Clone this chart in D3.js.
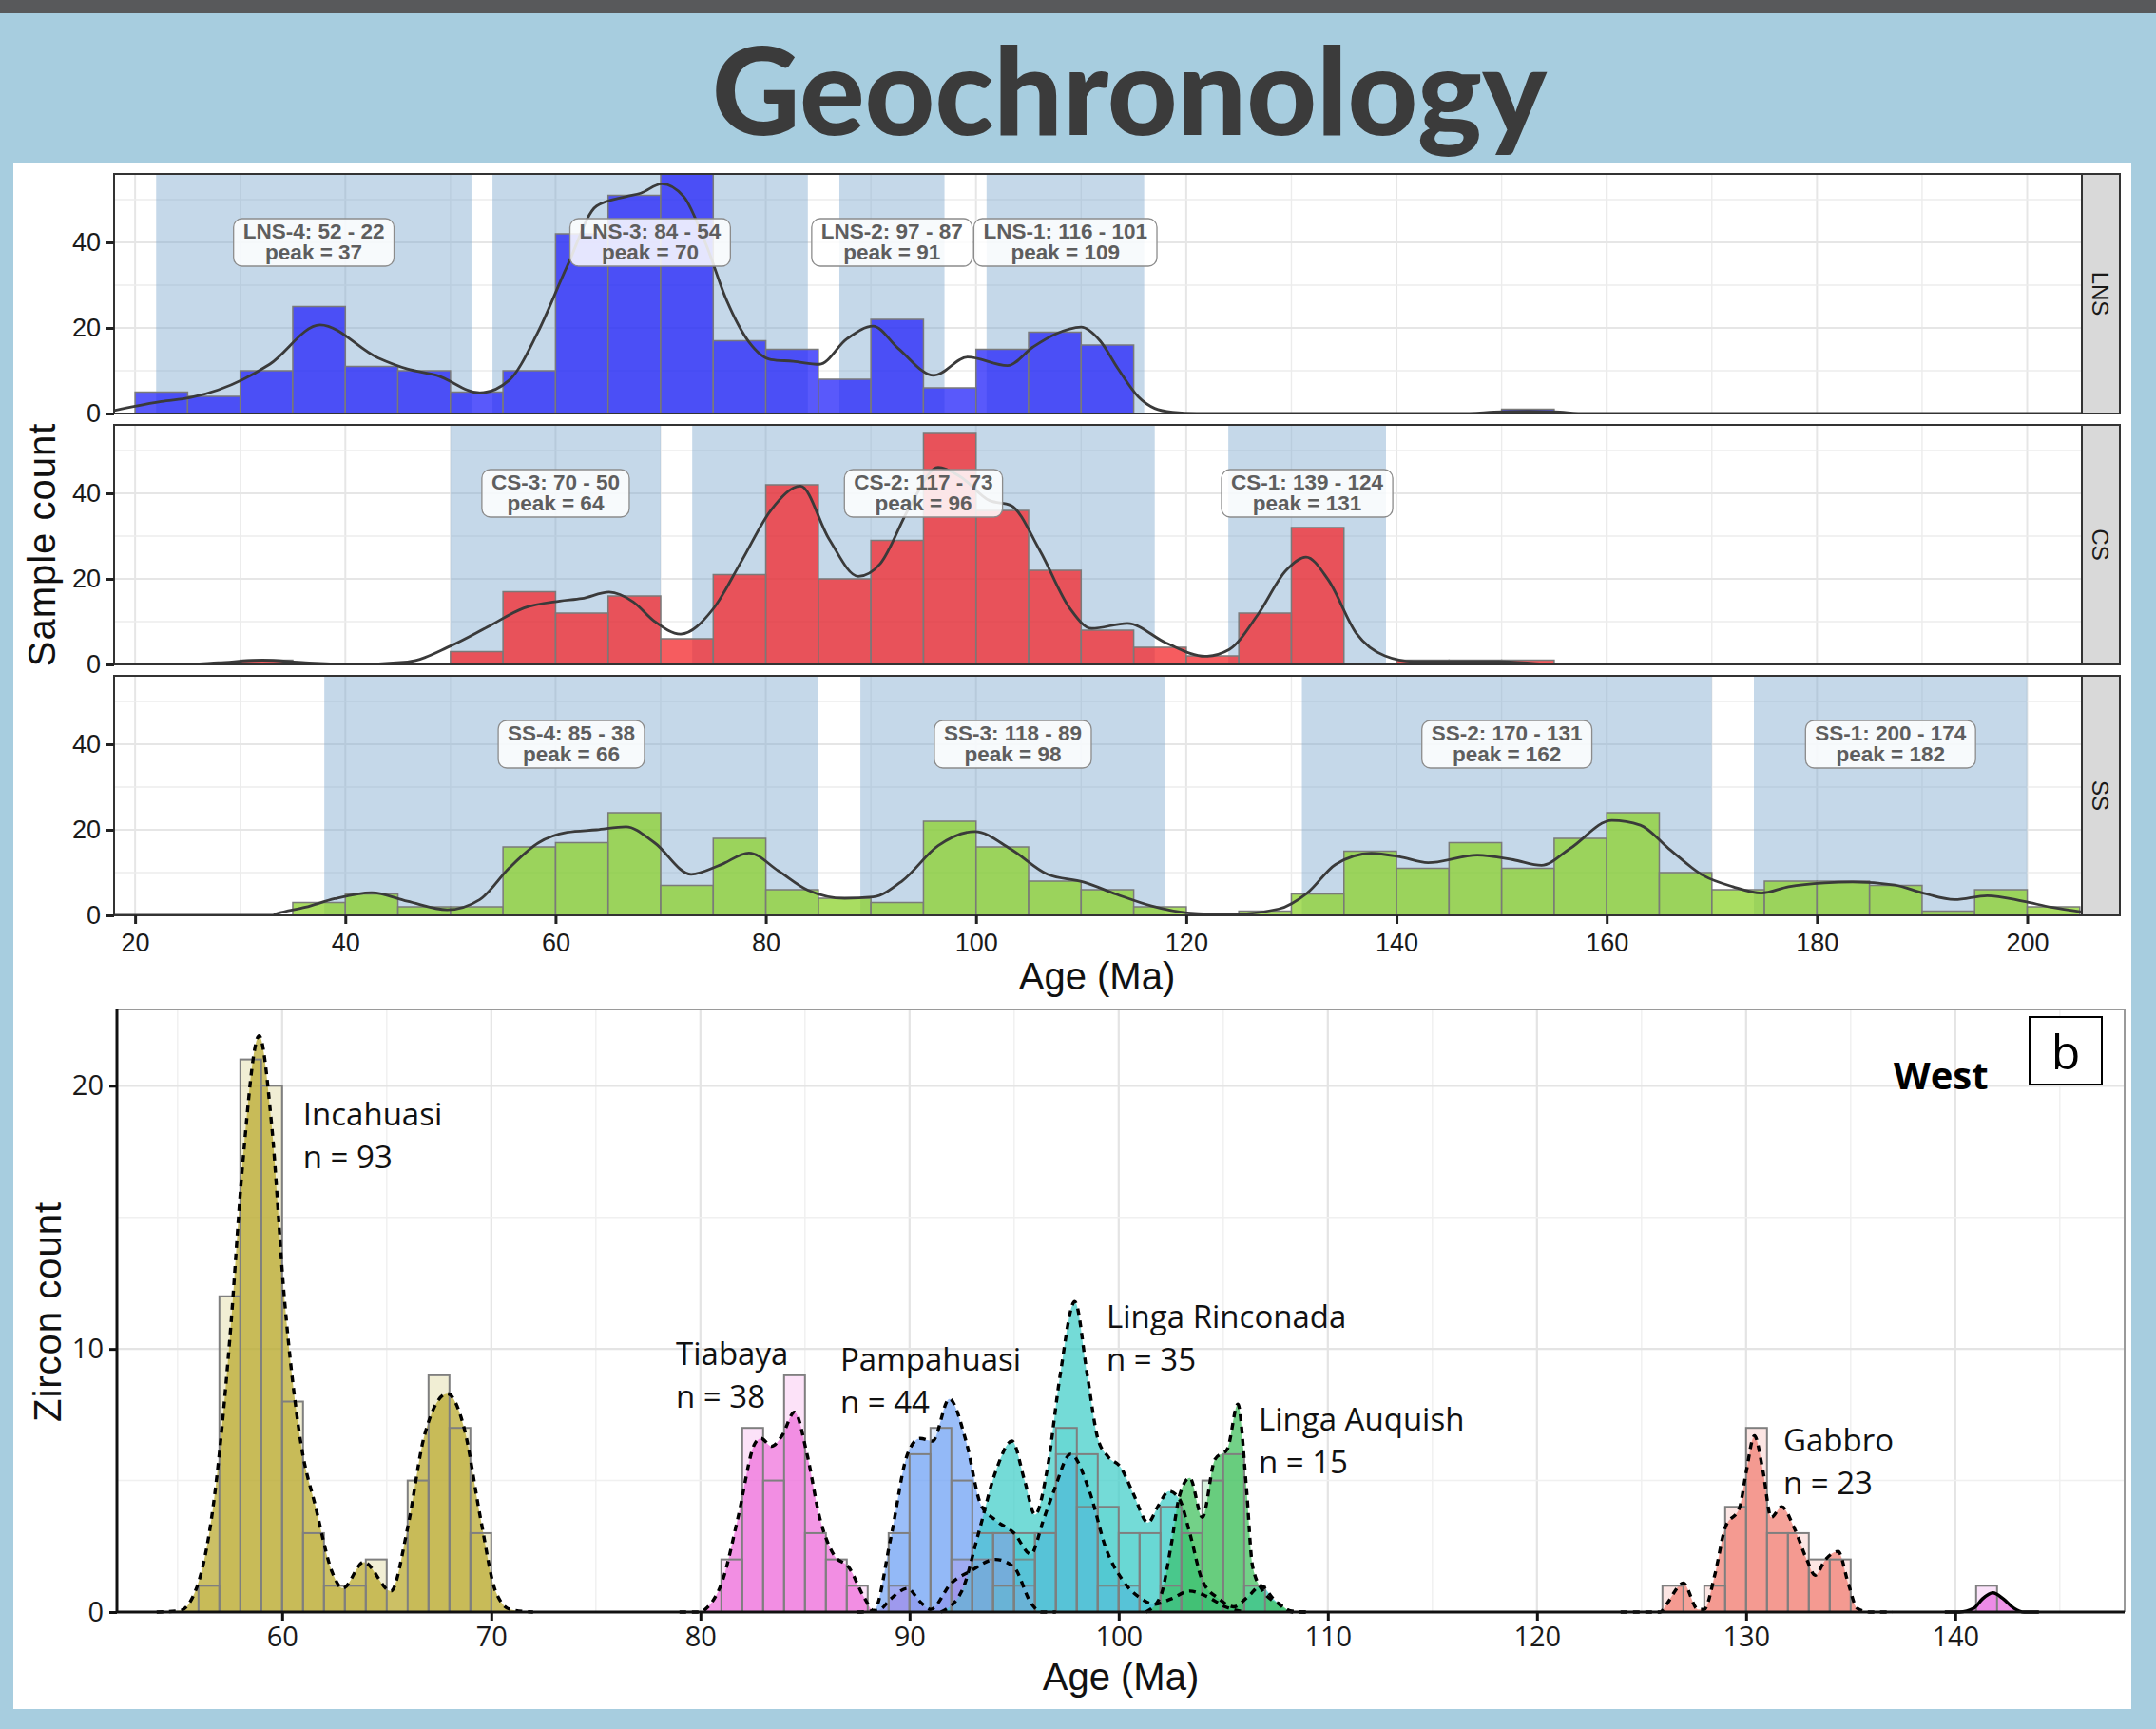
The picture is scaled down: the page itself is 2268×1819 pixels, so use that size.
<!DOCTYPE html>
<html>
<head>
<meta charset="utf-8">
<script src="https://cdn.jsdelivr.net/npm/d3@7"></script>
<style>
  html, body { margin: 0; padding: 0; background: #a7cddf; }
  svg { display: block; }
</style>
</head>
<body>
<svg id="fig" width="2268" height="1819"></svg>
<script>
// ===== Upper figure: sample counts per 5 Myr bin, by unit =====
const binStart = 20;
const binWidth = 5;
const facetNames = ["LNS", "CS", "SS"];
const lnsCounts = [5, 4, 10, 25, 11, 10, 5, 10, 42, 51, 57, 17, 15, 8, 22, 6, 15, 19, 16, 0, 0, 0, 0, 0, 0, 0, 1];
const csCounts  = [0, 0, 1, 0, 0, 0, 3, 17, 12, 16, 6, 21, 42, 20, 29, 54, 36, 22, 8, 4, 2, 12, 32, 0, 1, 1, 1];
const ssCounts  = [0, 0, 0, 3, 5, 2, 2, 16, 17, 24, 7, 18, 6, 4, 3, 22, 16, 8, 6, 2, 0, 1, 5, 15, 11, 17, 11, 18, 24, 10, 6, 8, 8, 7, 1, 6, 2];

// smoothed density traces, [age Ma, count]
const lnsDensity = [[18, 0.7], [20, 1.7], [22.5, 2.8], [25.2, 3.7], [27.9, 5.5], [32.8, 11.5], [37.6, 20.7], [43.1, 13], [45.9, 10.4], [48.7, 8.9], [52.8, 4.8], [55.6, 7.8], [58.3, 18.9], [61.1, 34.4], [63.9, 48.5], [66.7, 50.7], [68.1, 51.5], [70.1, 53.7], [72.2, 50.7], [74.3, 39.6], [76.3, 26.3], [78.4, 16.7], [80.5, 12.6], [82.6, 12.2], [85.1, 11.5], [87.7, 17.4], [90.2, 20.4], [92.6, 15.2], [96.0, 8.9], [99.2, 13.2], [103, 11.2], [105.4, 15.5], [107.5, 18.5], [110, 20.2], [111.8, 17], [113.5, 10.5], [115.4, 4], [117, 1.2], [118.7, 0.3], [121, 0], [146, 0], [150, 0.4], [152.5, 0.5], [155, 0.4], [158, 0], [205.2, 0]];
const csDensity = [[18, 0], [24.4, 0], [27.9, 0.4], [32.1, 1.0], [36.2, 0.4], [40.4, 0], [45.9, 0.6], [50, 4.3], [53.5, 8.7], [57, 13.2], [60.4, 14.8], [62.5, 15.4], [65.1, 16.9], [67.4, 14.6], [69.4, 10.1], [71.9, 7.1], [75, 13], [77.7, 24.2], [80.5, 36.1], [83.3, 41.7], [86, 29.4], [88.8, 20.6], [90.9, 23.6], [93.7, 36.9], [96.4, 46.1], [98.5, 43.9], [101.3, 38.3], [103.3, 37.2], [106.1, 26.5], [108.9, 13.2], [111, 8.4], [114.4, 9.6], [118.1, 5], [121.8, 1.9], [124.1, 3.5], [126.8, 11.6], [129.5, 22], [131.4, 25.1], [133.5, 19.8], [136.2, 7.2], [138.9, 2], [141.6, 0.7], [149.7, 0.7], [155.1, 0], [205.2, 0]];
const ssDensity = [[18, 0], [33, 0], [33.5, 0.4], [36.2, 1.9], [39, 3.9], [42.5, 5.3], [45.9, 3.3], [49.7, 1.3], [52.8, 3.7], [55.6, 11.1], [58.4, 17], [61.1, 19.4], [63.9, 20], [66.7, 20.7], [69.4, 17], [72.9, 9.6], [75.7, 11.8], [78.4, 14.6], [81.2, 10.4], [84, 5.9], [87.5, 4], [90.2, 4.3], [93, 8.1], [96.4, 16.3], [99.9, 19.6], [103.3, 15.5], [106.8, 9.6], [110.2, 7.8], [113.4, 4.9], [116.7, 2.2], [120.1, 0.6], [124.1, 0.2], [128.8, 1.5], [131.5, 5.2], [134.2, 11.9], [137.6, 14.5], [140.3, 13.7], [143, 12.3], [147.7, 14.1], [151.1, 13], [153.8, 11.7], [156.5, 15.6], [160.5, 22.2], [163.2, 21.1], [165.9, 15.6], [169.2, 9.3], [172, 6.7], [174.7, 5.2], [177.3, 6.7], [180.7, 7.6], [183.4, 7.8], [187.4, 7.1], [190.1, 5.2], [193.1, 3.7], [196.2, 4.6], [199.6, 3.3], [202.3, 1.9], [205.2, 0.8]];

// age populations: [name, older bound, younger bound, peak]
const lnsPopulations = [["LNS-4", 52, 22, 37], ["LNS-3", 84, 54, 70], ["LNS-2", 97, 87, 91], ["LNS-1", 116, 101, 109]];
const csPopulations  = [["CS-3", 70, 50, 64], ["CS-2", 117, 73, 96], ["CS-1", 139, 124, 131]];
const ssPopulations  = [["SS-4", 85, 38, 66], ["SS-3", 118, 89, 98], ["SS-2", 170, 131, 162], ["SS-1", 200, 174, 182]];

const topTicksX = [20, 40, 60, 80, 100, 120, 140, 160, 180, 200];
const topTicksY = [0, 20, 40];

// ===== Lower figure: zircon counts per 1 Myr bin, West intrusive units =====
const groupNames = ["Incahuasi", "Tiabaya", "Pampahuasi", "Linga Rinconada", "Linga Auquish", "Gabbro"];
const groupN = [93, 38, 44, 35, 15, 23];
const groupFirstBin = [56, 81, 89, 94, 102, 126];
const incahuasiCounts  = [1, 12, 21, 20, 8, 3, 1, 1, 2, 0, 5, 9, 7, 3];
const tiabayaCounts    = [2, 7, 5, 9, 3, 2, 1, 0, 1, 0, 0, 2, 2, 3, 1];
const pampahuasiCounts = [3, 6, 7, 5, 3, 3, 2, 3, 6, 4, 1, 1];
const rinconadaCounts  = [1, 3, 3, 7, 6, 4, 3, 3, 4, 0, 0, 0, 1];
const auquishCounts    = [1, 3, 5, 6];
const gabbroCounts     = [1, 0, 1, 4, 7, 3, 3, 2, 2];
const loneGrainFirstBin = 141;
const loneGrainCounts = [1];

const incahuasiDensity = [[54, 0], [55.1, 0.05], [55.9, 0.9], [56.7, 4.0], [57.5, 10.4], [58.1, 16.9], [58.9, 21.9], [59.5, 18.5], [60.1, 12.0], [60.9, 6.4], [61.6, 4.0], [62.4, 1.5], [62.9, 0.9], [63.9, 1.9], [65.2, 0.8], [66.0, 3.2], [66.8, 6.7], [67.9, 8.3], [68.7, 7.0], [69.5, 3.5], [70.2, 0.8], [70.9, 0.1], [72, 0]];
const tiabayaDensity = [[79, 0], [80, 0], [80.3, 0.15], [81.1, 1.3], [81.8, 3.6], [82.6, 6.4], [82.9, 6.6], [83.4, 6.3], [83.9, 6.7], [84.5, 7.6], [85.1, 6.0], [85.7, 3.6], [86.4, 2.15], [87.1, 1.7], [87.8, 0.6], [88.3, 0.05], [88.6, 0.1], [89.1, 0.5], [89.9, 0.9], [90.5, 0.4], [91, 0.1], [92, 1.1], [92.9, 1.55], [94.1, 2.0], [95, 1.7], [95.8, 0.35], [96.3, 0], [97, 0]];
const pampahuasiDensity = [[87.5, 0], [88.3, 0.05], [89.1, 2.8], [89.9, 6.0], [90.5, 6.6], [91.1, 6.5], [91.9, 8.1], [92.7, 6.5], [93.4, 4.1], [94.1, 3.5], [95, 3.0], [95.8, 2.2], [96.4, 3.5], [96.9, 4.6], [97.7, 6.0], [98.6, 4.6], [99.4, 2.4], [100.2, 1.2], [101.1, 0.5], [101.7, 0.3], [102.5, 0.5], [103.4, 0.8], [104.2, 0.6], [105.1, 0.2], [106, 0]];
const rinconadaDensity = [[91.5, 0], [92.5, 0.8], [93.3, 3.0], [94.1, 5.3], [94.9, 6.5], [95.5, 5.0], [96.0, 3.7], [96.6, 5.5], [97.2, 9.0], [97.9, 11.8], [98.5, 9.0], [99.0, 6.6], [99.5, 5.9], [100.1, 5.5], [100.7, 4.5], [101.4, 3.4], [101.9, 4.05], [102.4, 4.6], [102.9, 4.3], [103.4, 3.0], [104, 1.2], [104.8, 0.5], [105.5, 0.2], [106.2, 0.6], [106.8, 1.0], [107.4, 0.5], [108.2, 0.05], [109, 0]];
const auquishDensity = [[101.3, 0], [102, 0.6], [102.5, 2.5], [102.9, 4.4], [103.4, 5.1], [104, 3.6], [104.6, 5.8], [105.2, 6.2], [105.7, 7.9], [106.1, 4.8], [106.4, 1.75], [106.9, 0.8], [107.8, 0.25], [108.3, 0], [109, 0]];
const gabbroDensity = [[124, 0], [125.9, 0], [126.2, 0.3], [127, 1.1], [127.7, 0.1], [128, 0.1], [128.5, 1.4], [129, 3.2], [129.7, 4.0], [130, 5.3], [130.4, 6.7], [130.8, 5.4], [131.2, 3.6], [131.7, 4.0], [132.3, 3.2], [132.9, 2.0], [133.3, 1.4], [133.8, 2.0], [134.4, 2.3], [134.9, 1.05], [135.3, 0.15], [135.9, 0], [137, 0]];
const loneGrainDensity = [[139.5, 0], [140.2, 0], [140.9, 0.15], [141.3, 0.5], [141.8, 0.73], [142.3, 0.5], [142.8, 0.15], [143.3, 0], [144, 0]];

const lowerTicksX = [60, 70, 80, 90, 100, 110, 120, 130, 140];
const lowerTicksY = [0, 10, 20];

// ---------------------------------------------------------------
const svg = d3.select("#fig");
const AXIS_FONT = "'Liberation Sans', Arial, sans-serif";
const LABEL_FONT = "'Open Sans', 'Noto Sans', sans-serif";

// header band and title
svg.append("rect").attr("x", 0).attr("y", 0).attr("width", 2268).attr("height", 14).attr("fill", "#58595b");
svg.append("text")
  .attr("x", 1188).attr("y", 142)
  .attr("text-anchor", "middle")
  .attr("font-family", "Lato, 'Open Sans', sans-serif")
  .attr("font-weight", 900)
  .attr("font-size", 128)
  .attr("fill", "#3b3b3b")
  .text("Geochronology");

// white card holding both figures
svg.append("rect").attr("x", 14).attr("y", 172).attr("width", 2228).attr("height", 1626).attr("fill", "#ffffff");

// ---------------- upper figure ----------------
const xTop = d3.scaleLinear().domain([18, 205.2]).range([120, 2190]);
const panelH = 252;
const facets = [
  { name: facetNames[0], counts: lnsCounts, density: lnsDensity, pops: lnsPopulations, fill: "#2121f9", top: 183 },
  { name: facetNames[1], counts: csCounts, density: csDensity, pops: csPopulations, fill: "#f3252a", top: 447 },
  { name: facetNames[2], counts: ssCounts, density: ssDensity, pops: ssPopulations, fill: "#8cd12c", top: 711 }
];

facets.forEach((f, fi) => {
  const y = d3.scaleLinear().domain([0, 56]).range([f.top + panelH, f.top]);
  const g = svg.append("g");
  const clipId = "clip-" + f.name;
  g.append("clipPath").attr("id", clipId)
    .append("rect").attr("x", 120).attr("y", f.top).attr("width", 2070).attr("height", panelH);
  const inner = g.append("g").attr("clip-path", `url(#${clipId})`);

  inner.append("rect").attr("x", 120).attr("y", f.top).attr("width", 2070).attr("height", panelH).attr("fill", "#fff");

  // grid
  const minorX = d3.range(30, 205, 20);
  inner.selectAll("line.mx").data(minorX).join("line")
    .attr("x1", d => xTop(d)).attr("x2", d => xTop(d)).attr("y1", f.top).attr("y2", f.top + panelH)
    .attr("stroke", "#ececec").attr("stroke-width", 1.4);
  inner.selectAll("line.Mx").data(topTicksX).join("line")
    .attr("x1", d => xTop(d)).attr("x2", d => xTop(d)).attr("y1", f.top).attr("y2", f.top + panelH)
    .attr("stroke", "#e6e6e6").attr("stroke-width", 2);
  inner.selectAll("line.my").data([10, 30, 50]).join("line")
    .attr("x1", 120).attr("x2", 2190).attr("y1", d => y(d)).attr("y2", d => y(d))
    .attr("stroke", "#ececec").attr("stroke-width", 1.4);
  inner.selectAll("line.My").data(topTicksY).join("line")
    .attr("x1", 120).attr("x2", 2190).attr("y1", d => y(d)).attr("y2", d => y(d))
    .attr("stroke", "#e6e6e6").attr("stroke-width", 2);

  // shaded age populations
  inner.selectAll("rect.pop").data(f.pops).join("rect")
    .attr("x", d => xTop(d[2])).attr("width", d => xTop(d[1]) - xTop(d[2]))
    .attr("y", f.top).attr("height", panelH)
    .attr("fill", "#7fa8cf").attr("fill-opacity", 0.45);

  // histogram bars
  const bins = f.counts.map((c, i) => ({ x0: binStart + i * binWidth, x1: binStart + (i + 1) * binWidth, c }))
    .filter(b => b.c > 0);
  inner.selectAll("rect.bar").data(bins).join("rect")
    .attr("x", d => xTop(d.x0)).attr("width", d => xTop(d.x1) - xTop(d.x0))
    .attr("y", d => y(d.c)).attr("height", d => y(0) - y(d.c))
    .attr("fill", f.fill).attr("fill-opacity", 0.75)
    .attr("stroke", "#7a7a7a").attr("stroke-width", 1.5);

  // density trace
  inner.append("path").datum(f.density)
    .attr("d", d3.line().x(d => xTop(d[0])).y(d => y(d[1])).curve(d3.curveMonotoneX))
    .attr("fill", "none").attr("stroke", "#3a3a3a").attr("stroke-width", 2.8);

  // population labels
  f.pops.forEach(p => {
    const cx = xTop((p[1] + p[2]) / 2), cy = y(40);
    const lg = g.append("g");
    const box = lg.append("rect");
    const t1 = lg.append("text").attr("x", cx).attr("y", cy - 4).attr("text-anchor", "middle")
      .attr("font-family", AXIS_FONT).attr("font-weight", 700).attr("font-size", 22.5).attr("fill", "#5e5e5e")
      .text(`${p[0]}: ${p[1]} - ${p[2]}`);
    const t2 = lg.append("text").attr("x", cx).attr("y", cy + 18).attr("text-anchor", "middle")
      .attr("font-family", AXIS_FONT).attr("font-weight", 700).attr("font-size", 22.5).attr("fill", "#5e5e5e")
      .text(`peak = ${p[3]}`);
    const w = Math.max(t1.node().getComputedTextLength(), t2.node().getComputedTextLength()) + 20;
    box.attr("x", cx - w / 2).attr("y", cy - 25).attr("width", w).attr("height", 50)
      .attr("rx", 9).attr("fill", "#fff").attr("fill-opacity", 0.86)
      .attr("stroke", "#8c8c8c").attr("stroke-width", 1.3);
  });

  // panel frame and strip
  g.append("rect").attr("x", 120).attr("y", f.top).attr("width", 2070).attr("height", panelH)
    .attr("fill", "none").attr("stroke", "#333").attr("stroke-width", 2);
  g.append("rect").attr("x", 2190).attr("y", f.top).attr("width", 40).attr("height", panelH)
    .attr("fill", "#d9d9d9").attr("stroke", "#333").attr("stroke-width", 2);
  g.append("text")
    .attr("transform", `translate(2210,${f.top + panelH / 2}) rotate(90)`)
    .attr("text-anchor", "middle").attr("dy", "0.36em")
    .attr("font-family", AXIS_FONT).attr("font-size", 24).attr("fill", "#1a1a1a")
    .text(f.name);

  // y axis
  const ya = g.append("g").attr("transform", "translate(120,0)")
    .call(d3.axisLeft(y).tickValues(topTicksY).tickSize(8).tickPadding(6));
  ya.select(".domain").remove();
  ya.selectAll(".tick line").attr("stroke", "#222").attr("stroke-width", 3);
  ya.selectAll(".tick text").attr("font-family", AXIS_FONT).attr("font-size", 27).attr("fill", "#1a1a1a");

  if (fi === facets.length - 1) {
    const xa = g.append("g").attr("transform", `translate(0,${f.top + panelH})`)
      .call(d3.axisBottom(xTop).tickValues(topTicksX).tickSize(9).tickPadding(10));
    xa.select(".domain").remove();
    xa.selectAll(".tick line").attr("stroke", "#222").attr("stroke-width", 3);
    xa.selectAll(".tick text").attr("font-family", AXIS_FONT).attr("font-size", 27).attr("fill", "#1a1a1a");
  }
});

svg.append("text").attr("x", 1154).attr("y", 1041).attr("text-anchor", "middle")
  .attr("font-family", AXIS_FONT).attr("font-size", 40).attr("fill", "#111").text("Age (Ma)");
svg.append("text").attr("transform", "translate(58,573) rotate(-90)").attr("text-anchor", "middle")
  .attr("font-family", AXIS_FONT).attr("font-size", 40).attr("letter-spacing", 1).attr("fill", "#111").text("Sample count");

// ---------------- lower figure ----------------
const xB = d3.scaleLinear().domain([52.1, 148.1]).range([123, 2235]);
const yB = d3.scaleLinear().domain([0, 22.9]).range([1696, 1062]);

const lower = svg.append("g");
lower.append("rect").attr("x", 123).attr("y", 1062).attr("width", 2112).attr("height", 634).attr("fill", "#fff");
lower.selectAll("line.mx").data(d3.range(55, 148, 10)).join("line")
  .attr("x1", d => xB(d)).attr("x2", d => xB(d)).attr("y1", 1062).attr("y2", 1696)
  .attr("stroke", "#f0f0f0").attr("stroke-width", 1.4);
lower.selectAll("line.Mx").data(lowerTicksX).join("line")
  .attr("x1", d => xB(d)).attr("x2", d => xB(d)).attr("y1", 1062).attr("y2", 1696)
  .attr("stroke", "#e4e4e4").attr("stroke-width", 2.2);
lower.selectAll("line.my").data([5, 15]).join("line")
  .attr("x1", 123).attr("x2", 2235).attr("y1", d => yB(d)).attr("y2", d => yB(d))
  .attr("stroke", "#f0f0f0").attr("stroke-width", 1.4);
lower.selectAll("line.My").data(lowerTicksY).join("line")
  .attr("x1", 123).attr("x2", 2235).attr("y1", d => yB(d)).attr("y2", d => yB(d))
  .attr("stroke", "#e4e4e4").attr("stroke-width", 2.2);

const groups = [
  { first: groupFirstBin[0], counts: incahuasiCounts, density: incahuasiDensity, color: "#b9a82a", dashed: true },
  { first: groupFirstBin[1], counts: tiabayaCounts, density: tiabayaDensity, color: "#ef6fdb", dashed: true },
  { first: groupFirstBin[2], counts: pampahuasiCounts, density: pampahuasiDensity, color: "#74a5f5", dashed: true },
  { first: groupFirstBin[3], counts: rinconadaCounts, density: rinconadaDensity, color: "#3fcdc7", dashed: true },
  { first: groupFirstBin[4], counts: auquishCounts, density: auquishDensity, color: "#3dbf5a", dashed: true },
  { first: groupFirstBin[5], counts: gabbroCounts, density: gabbroDensity, color: "#f17e72", dashed: true },
  { first: loneGrainFirstBin, counts: loneGrainCounts, density: loneGrainDensity, color: "#e86be0", dashed: false }
];

const areaB = d3.area().x(d => xB(d[0])).y0(yB(0)).y1(d => yB(d[1])).curve(d3.curveMonotoneX);
const lineB = d3.line().x(d => xB(d[0])).y(d => yB(d[1])).curve(d3.curveMonotoneX);

// density fills
groups.forEach(gr => {
  lower.append("path").datum(gr.density).attr("d", areaB)
    .attr("fill", gr.color).attr("fill-opacity", 0.72);
});
// histogram bars
groups.forEach(gr => {
  const bins = gr.counts.map((c, i) => ({ x0: gr.first + i, x1: gr.first + i + 1, c })).filter(b => b.c > 0);
  lower.append("g").selectAll("rect").data(bins).join("rect")
    .attr("x", d => xB(d.x0)).attr("width", d => xB(d.x1) - xB(d.x0))
    .attr("y", d => yB(d.c)).attr("height", d => yB(0) - yB(d.c))
    .attr("fill", gr.color).attr("fill-opacity", 0.2)
    .attr("stroke", "#7f7f7f").attr("stroke-width", 2);
});
// density outlines
groups.forEach(gr => {
  lower.append("path").datum(gr.density).attr("d", lineB)
    .attr("fill", "none").attr("stroke", "#000").attr("stroke-width", 3.4)
    .attr("stroke-dasharray", gr.dashed ? "7,6" : null);
});

// frame and axes
lower.append("path").attr("d", "M123,1062H2235V1696").attr("fill", "none").attr("stroke", "#9a9a9a").attr("stroke-width", 2);
lower.append("line").attr("x1", 123).attr("x2", 123).attr("y1", 1062).attr("y2", 1697).attr("stroke", "#111").attr("stroke-width", 3);
lower.append("line").attr("x1", 122).attr("x2", 2235).attr("y1", 1696).attr("y2", 1696).attr("stroke", "#111").attr("stroke-width", 3);

const xaB = lower.append("g").attr("transform", "translate(0,1696)")
  .call(d3.axisBottom(xB).tickValues(lowerTicksX).tickSize(9).tickPadding(6));
xaB.select(".domain").remove();
xaB.selectAll(".tick line").attr("stroke", "#111").attr("stroke-width", 3);
xaB.selectAll(".tick text").attr("font-family", LABEL_FONT).attr("font-size", 29).attr("fill", "#1a1a1a");

const yaB = lower.append("g").attr("transform", "translate(123,0)")
  .call(d3.axisLeft(yB).tickValues(lowerTicksY).tickSize(8).tickPadding(6));
yaB.select(".domain").remove();
yaB.selectAll(".tick line").attr("stroke", "#111").attr("stroke-width", 3);
yaB.selectAll(".tick text").attr("font-family", LABEL_FONT).attr("font-size", 29).attr("fill", "#1a1a1a");

svg.append("text").attr("x", 1179).attr("y", 1778).attr("text-anchor", "middle")
  .attr("font-family", AXIS_FONT).attr("font-size", 40).attr("fill", "#111").text("Age (Ma)");
svg.append("text").attr("transform", "translate(64,1380) rotate(-90)").attr("text-anchor", "middle")
  .attr("font-family", AXIS_FONT).attr("font-size", 40).attr("letter-spacing", 1).attr("fill", "#111").text("Zircon count");

// unit labels, anchored in data space
const labelAnchors = [[61.0, 18.5], [78.83, 9.39], [86.69, 9.18], [99.42, 10.81], [106.69, 6.9], [131.78, 6.11]];
groupNames.forEach((name, i) => {
  const [ax, ay] = labelAnchors[i];
  const t = lower.append("text").attr("font-family", LABEL_FONT).attr("font-size", 33).attr("fill", "#111");
  t.append("tspan").attr("x", xB(ax)).attr("y", yB(ay)).text(name);
  t.append("tspan").attr("x", xB(ax)).attr("y", yB(ay) + 45).text(`n = ${groupN[i]}`);
});

lower.append("text").attr("x", 1992).attr("y", 1146)
  .attr("font-family", LABEL_FONT).attr("font-weight", 700).attr("font-size", 40).attr("fill", "#000").text("West");
lower.append("rect").attr("x", 2135).attr("y", 1070).attr("width", 76).attr("height", 71)
  .attr("fill", "#fff").attr("stroke", "#000").attr("stroke-width", 2);
lower.append("text").attr("x", 2173).attr("y", 1125).attr("text-anchor", "middle")
  .attr("font-family", LABEL_FONT).attr("font-size", 50).attr("fill", "#000").text("b");
</script>
</body>
</html>
